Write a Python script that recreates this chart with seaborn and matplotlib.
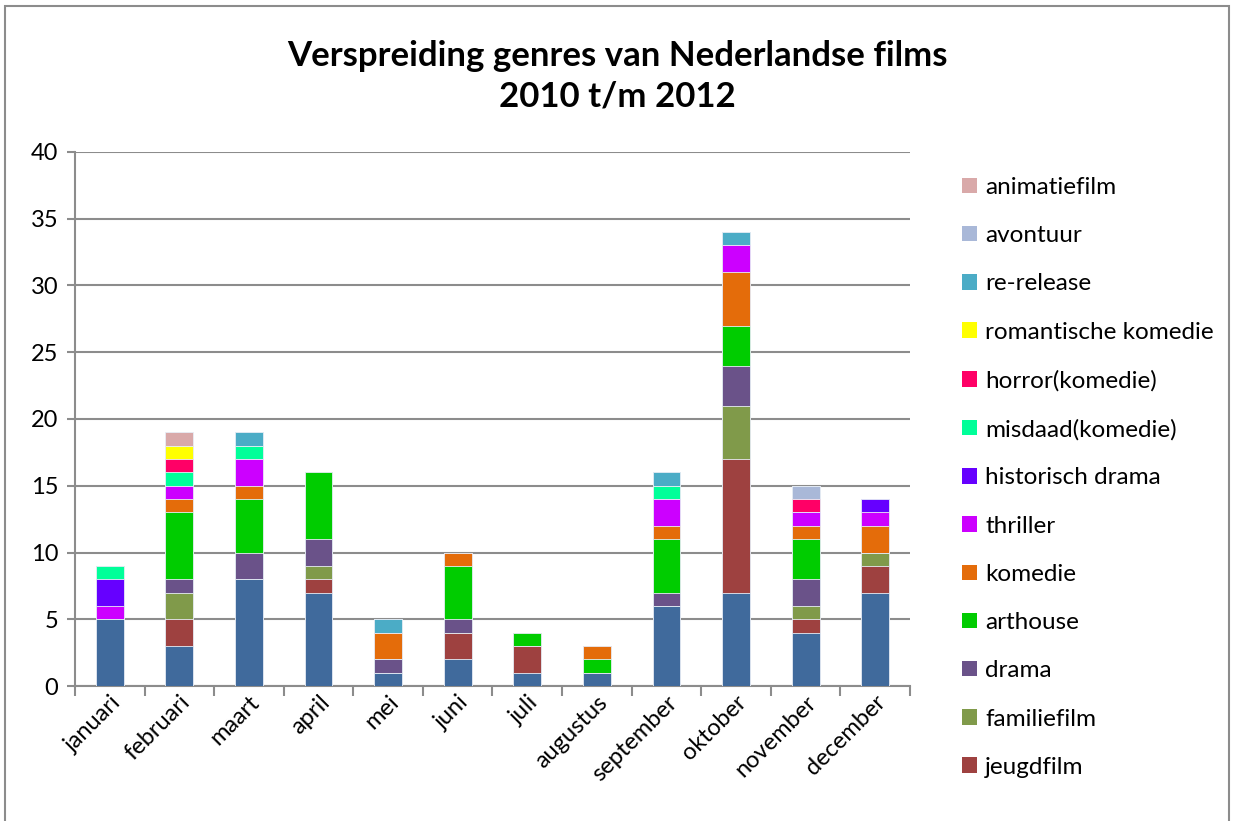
import numpy as np
import pandas as pd
import seaborn as sns
import matplotlib.pyplot as plt
from matplotlib.patches import Patch, Rectangle

maanden = ["januari", "februari", "maart", "april", "mei", "juni", "juli",
           "augustus", "september", "oktober", "november", "december"]

# series from bottom to top of each stack
overig = [5, 3, 8, 7, 1, 2, 1, 1, 6, 7, 4, 7]
jeugdfilm = [0, 2, 0, 1, 0, 2, 2, 0, 0, 10, 1, 2]
familiefilm = [0, 2, 0, 1, 0, 0, 0, 0, 0, 4, 1, 1]
drama = [0, 1, 2, 2, 1, 1, 0, 0, 1, 3, 2, 0]
arthouse = [0, 5, 4, 5, 0, 4, 1, 1, 4, 3, 3, 0]
komedie = [0, 1, 1, 0, 2, 1, 0, 1, 1, 4, 1, 2]
thriller = [1, 1, 2, 0, 0, 0, 0, 0, 2, 2, 1, 1]
historisch_drama = [2, 0, 0, 0, 0, 0, 0, 0, 0, 0, 0, 1]
misdaad = [1, 1, 1, 0, 0, 0, 0, 0, 1, 0, 0, 0]
horror = [0, 1, 0, 0, 0, 0, 0, 0, 0, 0, 1, 0]
romantische_komedie = [0, 1, 0, 0, 0, 0, 0, 0, 0, 0, 0, 0]
re_release = [0, 0, 1, 0, 1, 0, 0, 0, 1, 1, 0, 0]
avontuur = [0, 0, 0, 0, 0, 0, 0, 0, 0, 0, 1, 0]
animatiefilm = [0, 1, 0, 0, 0, 0, 0, 0, 0, 0, 0, 0]

series = [
    ("overig", overig, "#406A9C"),
    ("jeugdfilm", jeugdfilm, "#9E4140"),
    ("familiefilm", familiefilm, "#809A4A"),
    ("drama", drama, "#6A5289"),
    ("arthouse", arthouse, "#00CC00"),
    ("komedie", komedie, "#E46C0A"),
    ("thriller", thriller, "#CC00FF"),
    ("historisch drama", historisch_drama, "#6600FF"),
    ("misdaad(komedie)", misdaad, "#00FF99"),
    ("horror(komedie)", horror, "#FF0066"),
    ("romantische komedie", romantische_komedie, "#FFFF00"),
    ("re-release", re_release, "#4BACC6"),
    ("avontuur", avontuur, "#A9B8D8"),
    ("animatiefilm", animatiefilm, "#D9A9A9"),
]

sns.set_theme(style="white")
plt.rcParams['font.family'] = ['Lato', 'DejaVu Sans']
plt.rcParams['text.color'] = 'black'
plt.rcParams['xtick.labelcolor'] = 'black'
plt.rcParams['ytick.labelcolor'] = 'black'

fig = plt.figure(figsize=(12.34, 8.21), dpi=100)
ax = fig.add_axes([0.0608, 0.1644, 0.6766, 0.6505])

# stacked bars: draw cumulative totals from the top layer down
cum = np.cumsum(np.array([s[1] for s in series]), axis=0)
for i in range(len(series) - 1, -1, -1):
    df = pd.DataFrame({"maand": maanden, "waarde": cum[i]})
    sns.barplot(data=df, x="maand", y="waarde", color=series[i][2],
                saturation=1, width=0.4, edgecolor="#E8EEF6", linewidth=0.6,
                ax=ax, zorder=3)

ax.set_ylim(0, 40)
ax.set_xlim(-0.5, 11.5)
ax.set_yticks(range(0, 41, 5))
ax.yaxis.grid(True, color="#8C8C8C", linewidth=1.5, zorder=0)
ax.set_xlabel("")
ax.set_ylabel("")
for s in ["top", "right"]:
    ax.spines[s].set_visible(False)
for s in ["left", "bottom"]:
    ax.spines[s].set_color("#8C8C8C")
    ax.spines[s].set_linewidth(1.5)
ax.tick_params(axis="y", direction="out", length=6, width=1.5, color="#8C8C8C",
               labelsize=17, pad=6, left=True)
ax.set_xticks(np.arange(-0.5, 12, 1), minor=True)
ax.tick_params(axis="x", which="minor", direction="out", length=7, width=1.5,
               color="#8C8C8C", bottom=True)
ax.tick_params(axis="x", which="major", length=0, labelsize=17, pad=4)
plt.setp(ax.get_xticklabels(), rotation=45, ha="right", rotation_mode="anchor")

fig.text(0.5, 0.907, "Verspreiding genres van Nederlandse films\n2010 t/m 2012",
         ha="center", va="center", fontsize=25, fontweight="bold", linespacing=1.35)

handles = [Patch(facecolor=c, edgecolor="none", label=n) for n, v, c in series[1:]][::-1]
fig.legend(handles=handles, loc="upper left", bbox_to_anchor=(0.762, 0.811),
           frameon=False, fontsize=17.5, labelspacing=1.12, handlelength=0.6,
           handleheight=0.6, handletextpad=0.35)

fig.patches.append(Rectangle((5 / 1234, -0.1), 1224 / 1234, 1.1 - 6 / 821,
                             transform=fig.transFigure, fill=False,
                             edgecolor="#8C8C8C", linewidth=1.5))

fig.savefig("out.png", dpi=100)
